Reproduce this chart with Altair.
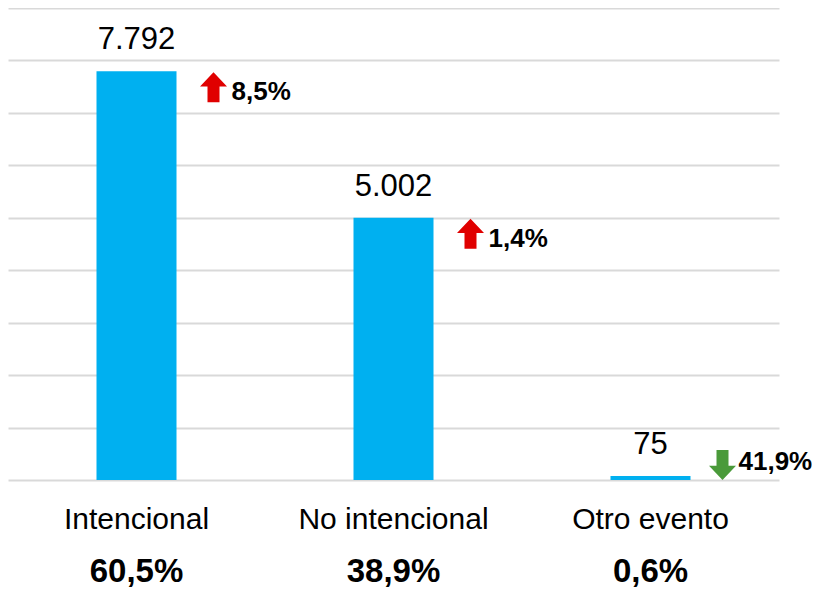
import altair as alt
import pandas as pd

categories = ["Intencional", "No intencional", "Otro evento"]
values = [7792, 5002, 75]
value_labels = ["7.792", "5.002", "75"]
changes = ["8,5%", "1,4%", "41,9%"]
directions = ["up", "up", "down"]
shares = ["60,5%", "38,9%", "0,6%"]
grid_ticks = [0, 1000, 2000, 3000, 4000, 5000, 6000, 7000, 8000, 9000]

df = pd.DataFrame({
    "cat": categories,
    "value": values,
    "vlabel": value_labels,
    "change": changes,
    "dir": directions,
    "share": shares,
})

REG = "Liberation Sans, Arial"

x = alt.X("cat:N", sort=categories,
          scale=alt.Scale(paddingInner=0.69, paddingOuter=0.345),
          axis=alt.Axis(title=None, domain=False, ticks=False, labelAngle=0,
                        labelFontSize=30, labelFont=REG, labelColor="#000000",
                        labelPadding=24, labelLimit=0, labelFontWeight="normal"))
y = alt.Y("value:Q", scale=alt.Scale(domain=[0, 9000], nice=False),
          axis=alt.Axis(title=None, domain=False, ticks=False, labels=False,
                        values=grid_ticks, grid=True, gridColor="#d9d9d9", gridWidth=2))

xs = alt.X("cat:N", sort=categories)
base = alt.Chart(df)

bars = base.mark_bar(color="#00b0f0", size=80).encode(x=x, y=y)

vtext = base.mark_text(fontSize=31, font=REG, dy=-31, baseline="middle", color="#000000").encode(
    x=xs, y="value:Q", text="vlabel:N")

up_arrow = "M0,-1 L0.9,-0.05 L0.4,-0.05 L0.4,1 L-0.4,1 L-0.4,-0.05 L-0.9,-0.05 Z"
down_arrow = "M0,1 L0.9,0.05 L0.4,0.05 L0.4,-1 L-0.4,-1 L-0.4,0.05 L-0.9,0.05 Z"

arr_up = base.transform_filter("datum.dir == 'up'").mark_point(
    shape=up_arrow, filled=True, color="#e00000", opacity=1, size=900,
    xOffset=77, yOffset=16).encode(x=xs, y="value:Q")
arr_down = base.transform_filter("datum.dir == 'down'").mark_point(
    shape=down_arrow, filled=True, color="#4a9a3a", opacity=1, size=900,
    xOffset=72, yOffset=-11).encode(x=xs, y="value:Q")

ch_up = base.transform_filter("datum.dir == 'up'").mark_text(
    fontSize=26, font=REG, fontWeight="bold", align="left", baseline="middle",
    dx=95, dy=21, color="#000000").encode(x=xs, y="value:Q", text="change:N")
ch_down = base.transform_filter("datum.dir == 'down'").mark_text(
    fontSize=26, font=REG, fontWeight="bold", align="left", baseline="middle",
    dx=88, dy=-14, color="#000000").encode(x=xs, y="value:Q", text="change:N")

share_text = base.mark_text(fontSize=33, font=REG, fontWeight="bold", baseline="middle",
                            color="#000000").encode(
    x=xs, y=alt.value(564), text="share:N")

chart = alt.layer(bars, vtext, arr_up, arr_down, ch_up, ch_down, share_text).properties(
    width=771, height=472,
    background="#ffffff",
    autosize=alt.AutoSizeParams(type="none"),
    padding={"left": 0, "top": 0, "right": 33, "bottom": 112},
).configure_view(stroke=None)

chart.save("out.html", embed_options={"renderer": "svg", "actions": False})
